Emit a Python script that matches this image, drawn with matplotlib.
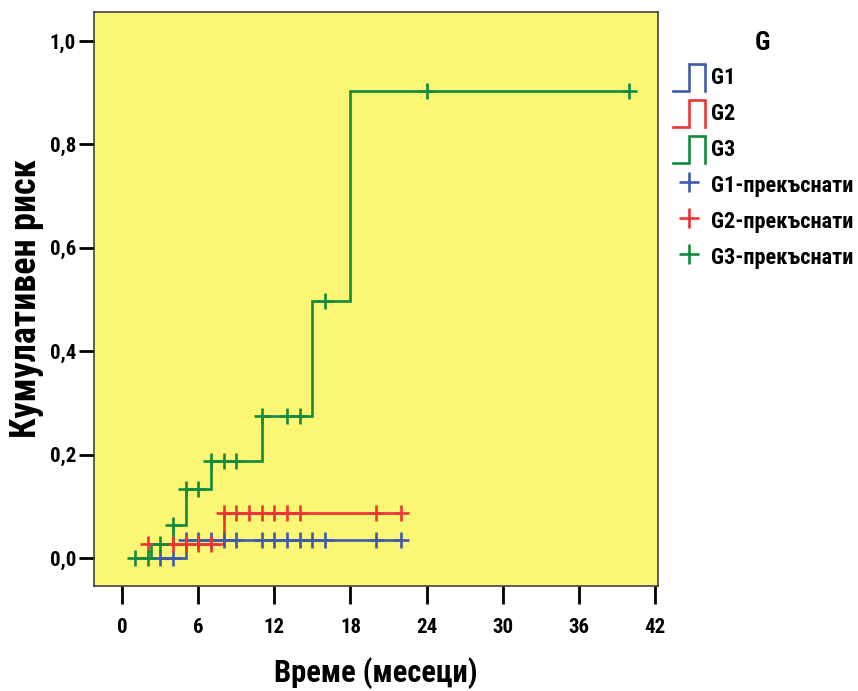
import numpy as np
import matplotlib
matplotlib.use("Agg")
import matplotlib.pyplot as plt
from matplotlib import font_manager
from matplotlib.font_manager import FontProperties
from matplotlib.lines import Line2D
from matplotlib.legend_handler import HandlerLine2D

# ---- data: cumulative risk step curves (jump times and levels) ----
g1_jump_t = [3, 5]
g1_jump_v = [0.0, 0.034]
g1_end = 22
g1_cens = [3, 4, 5, 6, 7, 8, 9, 11, 12, 13, 14, 15, 16, 20, 22]

g2_jump_t = [2, 8]
g2_jump_v = [0.028, 0.088]
g2_end = 22
g2_cens = [2, 4, 5, 6, 7, 8, 9, 10, 11, 12, 13, 14, 20, 22]

g3_jump_t = [1, 2.3, 4, 5, 7, 11, 15, 18]
g3_jump_v = [0.0, 0.028, 0.063, 0.133, 0.187, 0.274, 0.497, 0.903]
g3_end = 40
g3_cens = [1, 2, 3, 4, 5, 6, 7, 8, 9, 11, 13, 14, 16, 24, 40]

groups = ["G1", "G2", "G3"]
colors = ["#3F5BAA", "#EE3338", "#128A3F"]
censored_suffix = "-прекъснати"

x_ticks = [0, 6, 12, 18, 24, 30, 36, 42]
y_ticks = [0.0, 0.2, 0.4, 0.6, 0.8, 1.0]
y_ticklabels = ["0,0", "0,2", "0,4", "0,6", "0,8", "1,0"]
x_label = "Време (месеци)"
y_label = "Кумулативен риск"
legend_title = "G"


# ---- fonts: prefer a narrow bold sans face ----
def pick_narrow_bold():
    best = None
    for f in font_manager.fontManager.ttflist:
        p = f.fname.lower().replace("-", "").replace("_", "")
        if "italic" in p or "oblique" in p:
            continue
        w = f.weight
        bold = w == "bold" or (isinstance(w, int) and w >= 700)
        if not bold or "extrabold" in p or "black" in p:
            continue
        rank = None
        if "liberationsansnarrow" in p:
            rank = 0
        elif "robotocondensed" in p:
            rank = 1
        elif "notosans" in p and "condensed" in p and "semi" not in p and "extra" not in p:
            rank = 2
        elif "dejavusanscondensed" in p:
            rank = 3
        if rank is not None and (best is None or rank < best[0]):
            best = (rank, f.fname)
    return best[1] if best else None


narrow_path = pick_narrow_bold()


def fp(size):
    if narrow_path:
        return FontProperties(fname=narrow_path, size=size)
    return FontProperties(family=["Liberation Sans", "DejaVu Sans"], weight="bold", size=size * 0.86)


fig = plt.figure(figsize=(8.58, 6.91), dpi=100)
ax = fig.add_axes([94 / 858, 1 - 586 / 691, (658 - 94) / 858, (586 - 12) / 691])
ax.set_facecolor("#FBF674")


def step_xy(jt, jv, end):
    xs = list(jt) + [end]
    ys = list(jv) + [jv[-1]]
    return xs, ys


def level_at(jt, jv, t):
    idx = np.searchsorted(jt, t, side="right") - 1
    return jv[max(idx, 0)]


series = [
    (g1_jump_t, g1_jump_v, g1_end, g1_cens),
    (g2_jump_t, g2_jump_v, g2_end, g2_cens),
    (g3_jump_t, g3_jump_v, g3_end, g3_cens),
]

for (jt, jv, end, cens), col in zip(series, colors):
    xs, ys = step_xy(jt, jv, end)
    ax.step(xs, ys, where="post", color=col, lw=1.9, solid_joinstyle="miter", zorder=3)
    cy = [level_at(jt, jv, t) for t in cens]
    ax.plot(cens, cy, linestyle="none", marker="+", markersize=11,
            markeredgewidth=1.9, color=col, zorder=4)

ax.set_xlim(-2.23, 42.26)
ax.set_ylim(-0.054, 1.056)
ax.set_xticks(x_ticks)
ax.set_xticklabels([str(v) for v in x_ticks])
ax.set_yticks(y_ticks)
ax.set_yticklabels(y_ticklabels)
ax.tick_params(axis="x", length=13, width=2.0, pad=10)
ax.tick_params(axis="y", length=11, width=2.0, pad=2)
for lab in ax.get_xticklabels() + ax.get_yticklabels():
    lab.set_fontproperties(fp(15))
for sp in ax.spines.values():
    sp.set_linewidth(1.1)
    sp.set_color("#333333")

ax.set_xlabel(x_label, fontproperties=fp(22))
ax.set_ylabel(y_label, fontproperties=fp(26), labelpad=4)
ax.xaxis.set_label_coords(0.5, -0.123)


# ---- legend with step-shaped icons ----
class HandlerStep(HandlerLine2D):
    def create_artists(self, legend, orig_handle, xdescent, ydescent,
                       width, height, fontsize, trans):
        x0, x1 = -xdescent, -xdescent + width
        y0, y1 = -ydescent, -ydescent + height
        xm = x0 + 0.5 * width
        line = Line2D([x0, xm, xm, x1, x1], [y0, y0, y1, y1, y0],
                      color=orig_handle.get_color(), lw=1.9,
                      solid_joinstyle="miter", transform=trans)
        return [line]


step_handles = [Line2D([], [], color=c) for c in colors]
cens_handles = [Line2D([], [], color=c, linestyle="none", marker="+",
                       markersize=15, markeredgewidth=1.9) for c in colors]
labels = groups + [g + censored_suffix for g in groups]
handler_map = {h: HandlerStep() for h in step_handles}

leg = fig.legend(step_handles + cens_handles, labels, handler_map=handler_map,
                 loc="upper left", bbox_to_anchor=(666 / 858, 1 - 24 / 691),
                 frameon=False, prop=fp(16), title=legend_title,
                 title_fontproperties=fp(19),
                 handlelength=1.44, handleheight=1.49, handletextpad=0.27,
                 labelspacing=0.405, borderaxespad=0, borderpad=0.3)

fig.savefig("out.png", dpi=100)
